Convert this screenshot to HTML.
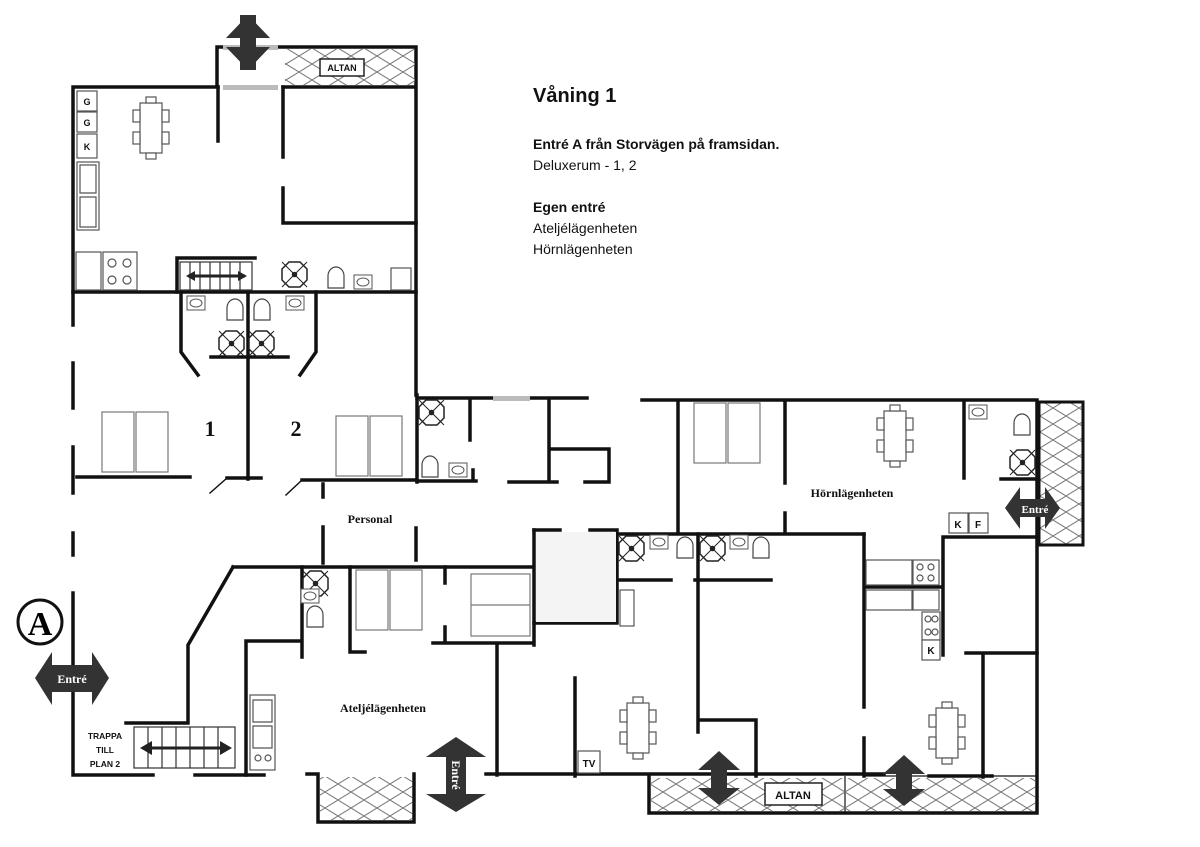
<!DOCTYPE html>
<html><head><meta charset="utf-8"><style>
html,body{margin:0;padding:0;background:#fff}
.t{position:absolute;font-family:"Liberation Sans",sans-serif;color:#111}
</style></head><body>
<div style="position:relative;width:1200px;height:847px;overflow:hidden">
<svg width="1200" height="847" viewBox="0 0 1200 847" style="position:absolute;left:0;top:0">
<defs>
<pattern id="h" width="26" height="16" patternUnits="userSpaceOnUse">
<path d="M0 0L26 16M26 0L0 16" stroke="#777" stroke-width="1" fill="none"/>
</pattern>
<g id="tbl" fill="#fff" stroke="#555" stroke-width="1.2">
<rect x="-11" y="-25" width="22" height="50"/>
<rect x="-5" y="-31" width="10" height="6"/><rect x="-5" y="25" width="10" height="6"/>
<rect x="-18" y="-18" width="7" height="12"/><rect x="-18" y="4" width="7" height="12"/>
<rect x="11" y="-18" width="7" height="12"/><rect x="11" y="4" width="7" height="12"/>
</g>
<g id="sh" fill="#fff" stroke="#222" stroke-width="1.5">
<path d="M0 7L7 0H18L25 7V18L18 25H7L0 18Z"/><path d="M0 0L25 25M25 0L0 25" stroke-width="1"/><circle cx="12.5" cy="12.5" r="2" fill="#222"/>
</g>
<g id="wc" fill="#fff" stroke="#444" stroke-width="1.2"><path d="M-8 10V-2A8 9 0 1 1 8 -2V10Z"/></g>
<g id="sk" fill="#fff" stroke="#555" stroke-width="1"><rect x="-9" y="-7" width="18" height="14"/><ellipse cx="0" cy="0" rx="6" ry="4"/></g>
<g id="bed" fill="#fff" stroke="#777" stroke-width="1.2"><rect x="0" y="0" width="32" height="60"/><rect x="34" y="0" width="32" height="60"/></g>
</defs>

<g stroke="#111" stroke-width="3.5" fill="none" stroke-linecap="square">
<!-- top left block -->
<path d="M73 87H218M283 87H416M217 87V47H416V87M73 87V325M416 47V395"/>
<path d="M218 87V141M283 87V157M283 188V223H416"/>
<path d="M73 292H416"/>
<path d="M177 292V258H255"/>
<path d="M181 292V352L198 375M316 292V352L300 375M248 292V479M211 357H288"/>
<!-- left rooms -->
<path d="M73 363V408M73 447V493M73 533V555M73 593V775H153M195 775H264"/>
<path d="M77 477H190M227 478H261M302 480H417M417 395V482"/>
<path d="M227 478L210 493M302 480L286 495" stroke-width="1.5"/>
<!-- bathroom middle -->
<path d="M417 398H494M530 398H587M470 398V440M417 481H476M473 470V481M549 398V482M509 482H557M549 449H609V482M585 482H609"/>
<path d="M323 484V497M323 527V563M416 528V560"/>
<!-- atelje -->
<path d="M233 567H532M233 567L188 645V723H126"/>
<path d="M302 567V657M246 641H302M246 641V775M350 567V652H365M445 567V583M445 627V640M433 643H532M534 530V645M497 645V775"/>
<path d="M534 530H560M590 530H617V623H534M617 534H864M575 678V776"/>
<path d="M307 774H318V822H414V774"/>
<path d="M486 774H884M929 776H992"/>
<!-- right -->
<path d="M642 400H1037V813H649V776M678 400V532M785 400V483M785 513V532M964 400V478M1001 479H1037"/>
<path d="M864 534V707M864 738V776M943 537H1037M943 537V655M864 587H943M983 653V777M966 653H1037"/>
<path d="M617 580H671M695 580H771M698 534V732M698 720H756V776"/>
</g>
<g stroke="#111" stroke-width="1.2" fill="none">
<path d="M864 776H1037M845 776V813"/>
</g>
<!-- hatched -->
<rect x="285" y="49" width="130" height="36" fill="url(#h)"/>
<rect x="1039" y="402" width="44" height="143" fill="url(#h)" stroke="#111" stroke-width="3"/>
<rect x="320" y="777" width="92" height="43" fill="url(#h)"/>
<rect x="651" y="778" width="384" height="33" fill="url(#h)"/>
<rect x="284" y="56" width="132" height="0" />
<g fill="#fff" stroke="#222" stroke-width="1.5">
<rect x="320" y="59" width="44" height="17"/>
<rect x="765" y="783" width="57" height="22"/>
</g>
<!-- door bars -->
<g fill="#bbb"><rect x="223" y="45" width="55" height="5"/><rect x="223" y="85" width="55" height="5"/><rect x="493" y="396" width="37" height="5"/></g>
<!-- stairs -->
<g stroke="#333" stroke-width="1.2" fill="#fff">
<rect x="180" y="262" width="72" height="28"/>
<path d="M190 262V290M200 262V290M210 262V290M220 262V290M230 262V290M240 262V290"/>
<rect x="134" y="727" width="101" height="41"/>
<path d="M148 727V768M162 727V768M176 727V768M190 727V768M204 727V768M218 727V768"/>
</g>
<g stroke="#222" stroke-width="3"><path d="M188 276H245M144 748H228"/></g>
<g fill="#222"><path d="M186 276L195 271V281ZM247 276L238 271V281ZM140 748L152 741V755ZM232 748L220 741V755Z"/></g>
<!-- furniture -->
<use href="#tbl" x="151" y="128"/><use href="#tbl" x="895" y="436"/><use href="#tbl" x="638" y="728"/><use href="#tbl" x="947" y="733"/>
<use href="#bed" x="102" y="412"/><use href="#bed" x="336" y="416"/><use href="#bed" x="694" y="403"/>
<g fill="#fff" stroke="#777" stroke-width="1.2"><rect x="356" y="570" width="32" height="60"/><rect x="390" y="570" width="32" height="60"/><rect x="471" y="574" width="59" height="62"/><path d="M471 605H530"/></g>
<rect x="536" y="532" width="80" height="90" fill="#f4f4f4"/>
<use href="#sh" x="282" y="262"/><use href="#sh" x="219" y="331"/><use href="#sh" x="249" y="331"/><use href="#sh" x="419" y="400"/>
<use href="#sh" x="303" y="571"/><use href="#sh" x="619" y="536"/><use href="#sh" x="700" y="536"/><use href="#sh" x="1010" y="450"/>
<use href="#wc" x="336" y="278"/><use href="#wc" x="235" y="310"/><use href="#wc" x="262" y="310"/><use href="#wc" x="430" y="467"/>
<use href="#wc" x="315" y="617"/><use href="#wc" x="685" y="548"/><use href="#wc" x="761" y="548"/><use href="#wc" x="1022" y="425"/>
<use href="#sk" x="363" y="282"/><use href="#sk" x="196" y="303"/><use href="#sk" x="295" y="303"/><use href="#sk" x="458" y="470"/>
<use href="#sk" x="310" y="596"/><use href="#sk" x="659" y="542"/><use href="#sk" x="739" y="542"/><use href="#sk" x="978" y="412"/>
<g fill="#fff" stroke="#555" stroke-width="1.2">
<rect x="77" y="91" width="20" height="20"/><rect x="77" y="112" width="20" height="20"/><rect x="77" y="134" width="20" height="24"/>
<rect x="77" y="162" width="22" height="68"/><path d="M80 165H96V193H80ZM80 197H96V227H80Z"/>
<rect x="76" y="252" width="25" height="38"/><rect x="103" y="252" width="34" height="38"/>
<circle cx="112" cy="263" r="4"/><circle cx="127" cy="263" r="4"/><circle cx="112" cy="280" r="4"/><circle cx="127" cy="280" r="4"/>
<rect x="391" y="268" width="20" height="22"/>
<rect x="250" y="695" width="25" height="75"/><path d="M253 700H272V722H253ZM253 726H272V748H253Z"/><circle cx="258" cy="758" r="3"/><circle cx="268" cy="758" r="3"/>
<rect x="578" y="751" width="22" height="22"/>
<rect x="949" y="513" width="19" height="20"/><rect x="969" y="513" width="19" height="20"/>
<rect x="866" y="560" width="46" height="25"/><rect x="913" y="560" width="26" height="25"/><circle cx="920" cy="567" r="3"/><circle cx="931" cy="567" r="3"/><circle cx="920" cy="578" r="3"/><circle cx="931" cy="578" r="3"/>
<rect x="866" y="590" width="46" height="20"/><rect x="913" y="590" width="26" height="20"/>
<rect x="922" y="612" width="18" height="28"/><circle cx="928" cy="619" r="3"/><circle cx="935" cy="619" r="3"/><circle cx="928" cy="632" r="3"/><circle cx="935" cy="632" r="3"/>
<rect x="922" y="640" width="18" height="20"/>
<rect x="620" y="590" width="14" height="36"/>
</g>
<g font-family="Liberation Sans,sans-serif" font-weight="bold" font-size="9" fill="#111" text-anchor="middle">
<text x="87" y="105">G</text><text x="87" y="126">G</text><text x="87" y="150">K</text>
<text x="589" y="767" font-size="10">TV</text>
<text x="958" y="528" font-size="10">K</text><text x="978" y="528" font-size="10">F</text><text x="931" y="654" font-size="10">K</text>
<text x="342" y="71" font-size="9">ALTAN</text><text x="793" y="799" font-size="11">ALTAN</text>
<text x="105" y="739" font-size="8.5">TRAPPA</text><text x="105" y="753" font-size="8.5">TILL</text><text x="105" y="767" font-size="8.5">PLAN 2</text>
</g>
<!-- arrows -->
<g fill="#333">
<path d="M248 15L270 38H256V70H240V38H226Z"/>
<path d="M248 70L270 47H256V15H240V47H226Z"/>
<path d="M35 678L52 652V665H92V652L109 678L92 705V692H52V705Z"/>
<path d="M456 737L486 757H466V794H486L456 812L426 794H446V757H426Z"/>
<path d="M719 751L740 770H727V788H740L719 805L698 788H711V770H698Z"/>
<path d="M904 755L925 774H912V789H925L904 806L883 789H896V774H883Z"/>
<path d="M1005 508L1020 487V499H1045V487L1060 508L1045 529V517H1020V529Z"/>
</g>
<circle cx="40" cy="622" r="22" fill="#fff" stroke="#111" stroke-width="3"/>
<text x="40" y="635" font-family="Liberation Serif,serif" font-weight="bold" font-size="34" text-anchor="middle">A</text>
<g font-family="Liberation Serif,serif" font-weight="bold" fill="#fff" text-anchor="middle">
<text x="72" y="683" font-size="12">Entré</text>
<text x="1035" y="513" font-size="11">Entré</text>
<text transform="translate(452,775) rotate(90)" x="0" y="0" font-size="12">Entré</text>
</g>
<g font-family="Liberation Serif,serif" font-weight="bold" fill="#111" text-anchor="middle">
<text x="210" y="436" font-size="22">1</text><text x="296" y="436" font-size="22">2</text>
<text x="370" y="523" font-size="12">Personal</text>
<text x="383" y="712" font-size="12">Ateljélägenheten</text>
<text x="852" y="497" font-size="12">Hörnlägenheten</text>
</g>
</svg>
<div class="t" style="left:533px;top:85px;font-size:20px;font-weight:bold">Våning 1</div>
<div class="t" style="left:533px;top:136px;font-size:14px;font-weight:bold">Entré A från Storvägen på framsidan.</div>
<div class="t" style="left:533px;top:157px;font-size:14px">Deluxerum - 1, 2</div>
<div class="t" style="left:533px;top:199px;font-size:14px;font-weight:bold">Egen entré</div>
<div class="t" style="left:533px;top:220px;font-size:14px">Ateljélägenheten</div>
<div class="t" style="left:533px;top:241px;font-size:14px">Hörnlägenheten</div>
</div>
</body></html>
